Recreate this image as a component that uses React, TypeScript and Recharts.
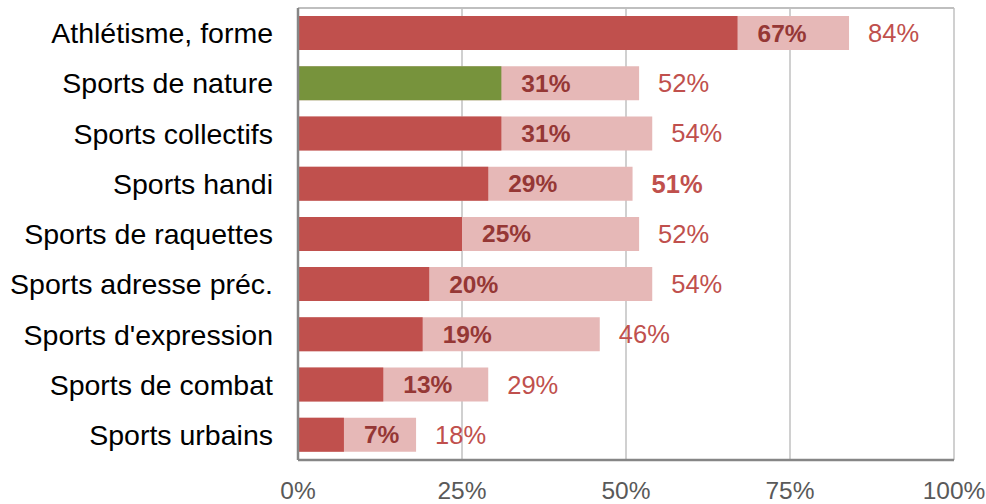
import { Bar, BarChart, CartesianGrid, Cell, LabelList, XAxis, YAxis } from "recharts";

const categories = [
  "Athlétisme, forme",
  "Sports de nature",
  "Sports collectifs",
  "Sports handi",
  "Sports de raquettes",
  "Sports adresse préc.",
  "Sports d'expression",
  "Sports de combat",
  "Sports urbains",
];
const shareValues = [67, 31, 31, 29, 25, 20, 19, 13, 7];
const totalValues = [84, 52, 54, 51, 52, 54, 46, 29, 18];
const xTicks = [0, 25, 50, 75, 100];
const highlighted = "Sports de nature";
const boldTotal = "Sports handi";

const data = categories.map((name, i) => ({
  name,
  share: shareValues[i],
  total: totalValues[i],
}));

const FONT = "'Liberation Sans', Arial, sans-serif";
const RED = "#c0504d";
const LIGHT = "#e6b8b7";
const GREEN = "#77933c";

function shareLabel(props: any) {
  const { x, y, width, height, value } = props;
  return (
    <text
      x={x + width + 20}
      y={y + height / 2}
      dominantBaseline="central"
      fontFamily={FONT}
      fontSize={24.5}
      fontWeight="bold"
      fill="#953735"
    >
      {value}%
    </text>
  );
}

function totalLabel(props: any) {
  const { x, y, width, height, value, index } = props;
  const bold = categories[index] === boldTotal;
  return (
    <text
      x={x + width + 19}
      y={y + height / 2}
      dominantBaseline="central"
      fontFamily={FONT}
      fontSize={25.5}
      fontWeight={bold ? "bold" : "normal"}
      fill={RED}
    >
      {value}%
    </text>
  );
}

export default function App() {
  return (
    <div style={{ position: "absolute", left: 0, top: 0, width: 986, height: 504, background: "#fff" }}>
      <BarChart
        width={986}
        height={504}
        data={data}
        layout="vertical"
        margin={{ top: 7, right: 32, bottom: 0, left: 0 }}
        barGap={-34}
      >
        <CartesianGrid horizontal={false} stroke="#c0c0c0" strokeWidth={1.5} />
        <XAxis
          type="number"
          domain={[0, 100]}
          ticks={xTicks}
          tickFormatter={(v) => `${v}%`}
          height={44}
          tickLine={false}
          tickSize={0}
          tickMargin={22}
          axisLine={{ stroke: "#868686", strokeWidth: 2.5 }}
          tick={{ fill: "#595959", fontSize: 24.5, fontFamily: FONT }}
          interval={0}
        />
        {/* top border of the plot area */}
        <XAxis
          xAxisId="top"
          orientation="top"
          type="number"
          domain={[0, 100]}
          height={1}
          ticks={xTicks}
          tick={false}
          tickLine={false}
          axisLine={{ stroke: "#bfbfbf", strokeWidth: 2 }}
        />
        <YAxis
          type="category"
          dataKey="name"
          width={298}
          tickLine={false}
          tickSize={0}
          tickMargin={25}
          axisLine={{ stroke: "#868686", strokeWidth: 2.5 }}
          tick={{ fill: "#000", fontSize: 28.5, fontFamily: FONT }}
          interval={0}
        />
        <Bar dataKey="total" fill={LIGHT} barSize={34} isAnimationActive={false}>
          <LabelList dataKey="total" content={totalLabel} />
        </Bar>
        <Bar dataKey="share" fill={RED} barSize={34} isAnimationActive={false}>
          {data.map((d) => (
            <Cell key={d.name} fill={d.name === highlighted ? GREEN : RED} />
          ))}
          <LabelList dataKey="share" content={shareLabel} />
        </Bar>
      </BarChart>
    </div>
  );
}
